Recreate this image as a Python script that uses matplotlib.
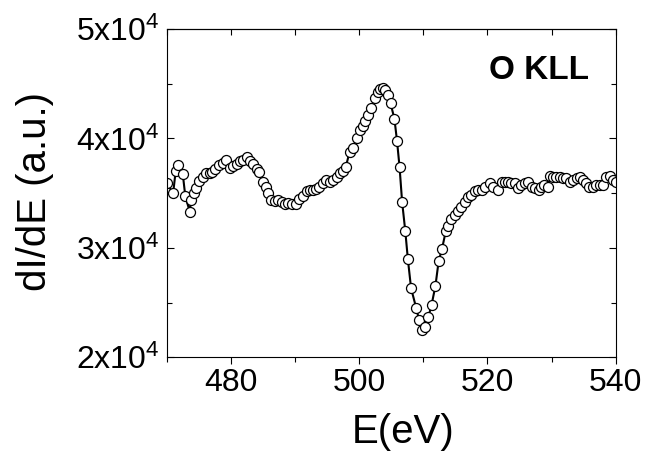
import numpy as np
import matplotlib
matplotlib.use('Agg')
import matplotlib.pyplot as plt
from matplotlib.ticker import MultipleLocator

plt.rcParams['font.family'] = ['Liberation Sans', 'DejaVu Sans']
plt.rcParams['mathtext.default'] = 'regular'

# O KLL Auger spectrum, derivative mode
energy = [470.0, 471.0, 471.4, 471.8, 472.5, 472.9, 473.6, 473.8, 474.2, 474.6,
          475.1, 475.6, 476.2, 476.7, 477.1, 477.6, 478.2, 478.7, 479.3, 479.8,
          480.3, 480.9, 481.4, 481.9, 482.5, 483.0, 483.4, 484.0, 484.4, 485.0,
          485.5, 485.8, 486.3, 486.9, 487.4, 487.9, 488.4, 488.9, 489.5, 490.2,
          490.7, 491.3, 491.8, 492.3, 492.8, 493.3, 493.8, 494.4, 494.9, 495.4,
          495.9, 496.5, 497.0, 497.5, 497.9, 498.5, 499.0, 499.6, 500.1, 500.6,
          500.9, 501.4, 501.9, 502.4, 502.9, 503.3, 503.7, 504.1, 504.5, 504.9,
          505.5, 505.9, 506.3, 506.7, 507.2, 507.6, 508.1, 508.9, 509.35, 509.8,
          510.3, 510.8, 511.3, 511.9, 512.4, 512.9, 513.5, 513.9, 514.4, 514.9,
          515.4, 515.95, 516.5, 517.0, 517.5, 518.0, 518.5, 519.1, 519.6, 520.4,
          520.9, 521.6, 522.2, 522.7, 523.2, 523.7, 524.3, 524.8, 525.3, 525.8,
          526.3, 526.9, 527.4, 528.0, 528.4, 528.9, 529.4, 529.7, 530.2, 530.75,
          531.3, 531.8, 532.3, 532.8, 533.3, 533.9, 534.4, 534.9, 535.4, 535.9,
          536.5, 537.0, 537.5, 538.0, 538.5, 539.05, 539.6, 540.0]
didE = [35900, 35000, 37050, 37550, 36750, 34700, 33300, 34400, 35000, 35500,
        36100, 36500, 36800, 36850, 36900, 37200, 37550, 37800, 38000, 37300,
        37500, 37650, 37900, 38050, 38300, 37950, 37650, 37200, 36950, 36050,
        35600, 35000, 34400, 34250, 34350, 34200, 34050, 34100, 34050, 34000,
        34500, 34750, 35150, 35300, 35250, 35350, 35600, 35900, 36200, 36050,
        36200, 36500, 36800, 37050, 37350, 38750, 39100, 40000, 40750, 41150,
        41550, 42150, 42750, 43650, 44250, 44500, 44600, 44450, 43950, 43200,
        41800, 39800, 37400, 34200, 31500, 28950, 26300, 24500, 23400, 22450,
        22750, 23700, 24800, 26550, 28800, 29850, 31500, 32000, 32600, 33000,
        33350, 33750, 34200, 34650, 34850, 35150, 35300, 35300, 35600, 35900,
        35600, 35300, 36050, 36050, 36050, 35900, 35900, 35450, 35750, 35900,
        36050, 35600, 35450, 35300, 35600, 35750, 35600, 36550, 36500, 36500,
        36500, 36350, 36350, 36050, 36200, 36350, 36500, 36200, 35900, 35600,
        35600, 35750, 35750, 35750, 36500, 36550, 36200, 36050]

yticks = [20000, 30000, 40000, 50000]
ytick_labels = [r'$2x10^{4}$', r'$3x10^{4}$', r'$4x10^{4}$', r'$5x10^{4}$']

fig = plt.figure(figsize=(6.47, 4.51), dpi=100)
ax = fig.add_axes([0.2577, 0.2078, 0.6939, 0.7279])

ax.plot(energy, didE, '-', color='black', lw=1.5, marker='o', ms=7.2,
        mfc='white', mec='black', mew=0.9)

ax.set_xlim(470, 540)
ax.set_ylim(20000, 50000)
ax.xaxis.set_major_locator(MultipleLocator(20))
ax.xaxis.set_minor_locator(MultipleLocator(10))
ax.set_yticks(yticks)
ax.set_yticklabels(ytick_labels)
ax.yaxis.set_minor_locator(MultipleLocator(5000))

for s in ax.spines.values():
    s.set_linewidth(0.8)

ax.tick_params(axis='x', which='both', direction='out', bottom=True, top=False,
               labelsize=23, pad=3, width=0.8)
ax.tick_params(axis='x', which='major', length=5)
ax.tick_params(axis='x', which='minor', length=3.5)
ax.tick_params(axis='y', which='both', direction='in', left=True, right=True,
               labelsize=23, pad=5, width=0.8)
ax.tick_params(axis='y', which='major', length=5)
ax.tick_params(axis='y', which='minor', length=3.5)

# inward ticks on the top edge every 10 eV
top = ax.secondary_xaxis('top')
top.set_xticks(np.arange(470, 541, 10))
top.tick_params(direction='in', length=4, width=0.8, labeltop=False)
top.spines['top'].set_linewidth(0.8)

ax.set_xlabel('E(eV)', fontsize=29)
ax.xaxis.set_label_coords(0.526, -0.17)
ax.set_ylabel('dI/dE (a.u.)', fontsize=29)
ax.yaxis.set_label_coords(-0.25, 0.505)

ax.text(0.94, 0.873, 'O KLL', transform=ax.transAxes, ha='right', va='center',
        fontsize=24, fontweight='bold')

fig.savefig('out.png', dpi=100)
